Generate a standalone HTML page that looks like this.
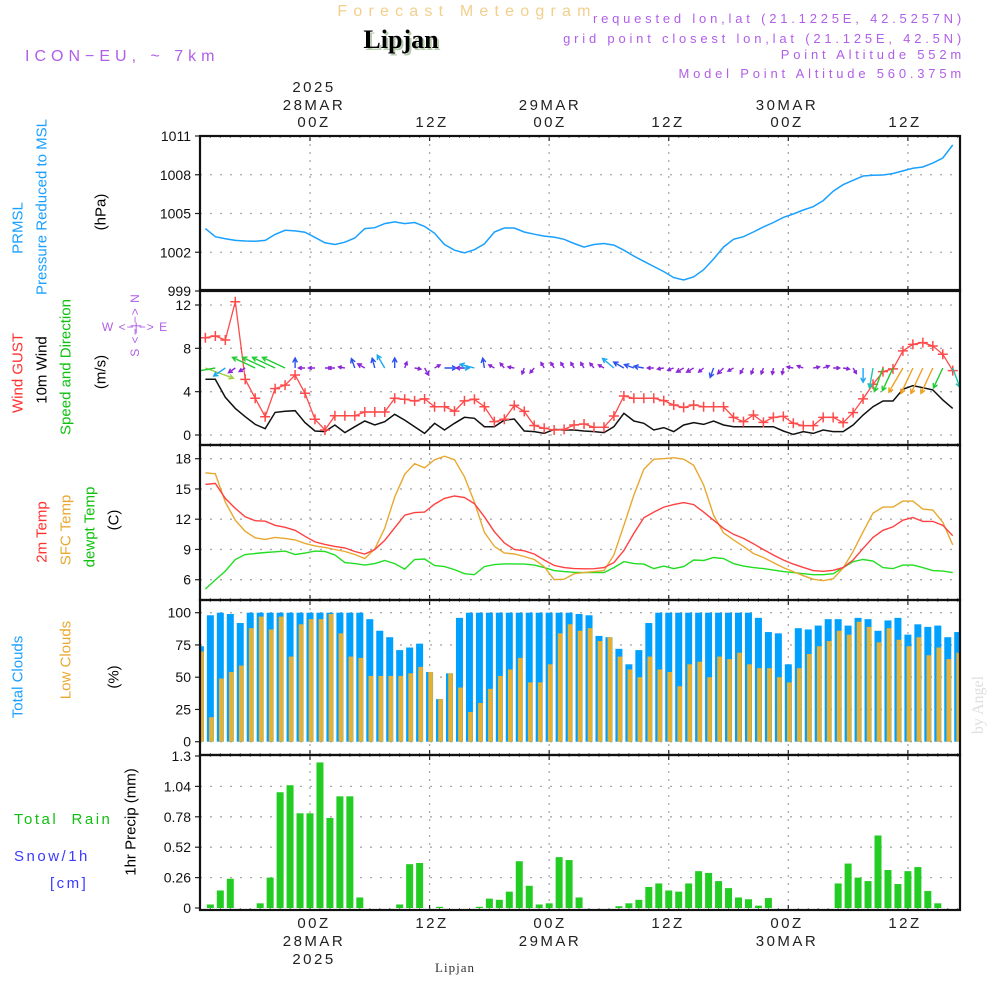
<!DOCTYPE html>
<html><head><meta charset="utf-8"><title>Forecast Meteogram Lipjan</title>
<style>
html,body{margin:0;padding:0;background:#fff;}
svg{display:block;font-family:"Liberation Sans",sans-serif;}
</style></head>
<body>
<svg id="chart" width="1000" height="1000" viewBox="0 0 1000 1000" xmlns="http://www.w3.org/2000/svg">
<rect x="0" y="0" width="1000" height="1000" fill="#fff"/>
<text x="467" y="16" text-anchor="middle" font-size="16" fill="#f3cf8c" letter-spacing="6.2">Forecast Meteogram</text>
<text x="403" y="50" text-anchor="middle" font-size="26" font-weight="bold" font-family="Liberation Serif, serif" fill="#b8ccb0">Lipjan</text>
<text x="401" y="48" text-anchor="middle" font-size="26" font-weight="bold" font-family="Liberation Serif, serif" fill="#000">Lipjan</text>
<text x="25" y="61" font-size="16" fill="#b15ee8" letter-spacing="5">ICON−EU, ~ 7km</text>
<g font-size="13" fill="#b15ee8" text-anchor="end" letter-spacing="3.8">
<text x="965" y="23">requested lon,lat (21.1225E, 42.5257N)</text>
<text x="965" y="43">grid point closest lon,lat (21.125E, 42.5N)</text>
<text x="965" y="59">Point Altitude 552m</text>
<text x="965" y="78">Model Point Altitude 560.375m</text>
</g>
<g font-size="15" fill="#222" text-anchor="middle" letter-spacing="2.5">
<text x="314" y="92">2025</text>
<text x="314" y="110">28MAR</text><text x="314" y="127">00Z</text>
<text x="432" y="127">12Z</text>
<text x="550" y="110">29MAR</text><text x="550" y="127">00Z</text>
<text x="668" y="127">12Z</text>
<text x="787" y="110">30MAR</text><text x="787" y="127">00Z</text>
<text x="905" y="127">12Z</text>
</g>
<g font-size="15" fill="#222" text-anchor="middle" letter-spacing="2.5">
<text x="314" y="928">00Z</text><text x="314" y="946">28MAR</text><text x="314" y="964">2025</text>
<text x="432" y="928">12Z</text>
<text x="550" y="928">00Z</text><text x="550" y="946">29MAR</text>
<text x="668" y="928">12Z</text>
<text x="787" y="928">00Z</text><text x="787" y="946">30MAR</text>
<text x="905" y="928">12Z</text>
</g>
<text x="455" y="972" text-anchor="middle" font-size="13" font-family="Liberation Serif, serif" fill="#333" letter-spacing="1">Lipjan</text>
<text transform="rotate(-90 983 705)" x="983" y="705" text-anchor="middle" font-size="16" font-family="Liberation Serif, serif" fill="#dde0dd">by Angel</text>

<g font-size="15" text-anchor="middle" dominant-baseline="central">
<text transform="rotate(-90 18 228)" x="18" y="228" fill="#1aa0ff">PRMSL</text>
<text transform="rotate(-90 42 207)" x="42" y="207" fill="#1aa0ff">Pressure Reduced to MSL</text>
<text transform="rotate(-90 101 212)" x="101" y="212" fill="#000">(hPa)</text>
<text transform="rotate(-90 18 373)" x="18" y="373" fill="#ff3030">Wind GUST</text>
<text transform="rotate(-90 42 370)" x="42" y="370" fill="#000">10m Wind</text>
<text transform="rotate(-90 66 367)" x="66" y="367" fill="#10c010">Speed and Direction</text>
<text transform="rotate(-90 101 372)" x="101" y="372" fill="#000">(m/s)</text>
<text transform="rotate(-90 42 532)" x="42" y="532" fill="#ff3030">2m Temp</text>
<text transform="rotate(-90 66 530)" x="66" y="530" fill="#e8a830">SFC Temp</text>
<text transform="rotate(-90 90 527)" x="90" y="527" fill="#10c010">dewpt Temp</text>
<text transform="rotate(-90 114 520)" x="114" y="520" fill="#000">(C)</text>
<text transform="rotate(-90 18 677)" x="18" y="677" fill="#1aa0ff">Total Clouds</text>
<text transform="rotate(-90 66 660)" x="66" y="660" fill="#e8a830">Low Clouds</text>
<text transform="rotate(-90 114 677)" x="114" y="677" fill="#000">(%)</text>
<text transform="rotate(-90 131 822)" x="131" y="822" fill="#000">1hr Precip (mm)</text>
</g>
<g font-size="15" letter-spacing="2.5">
<text x="14" y="824" fill="#10c010" xml:space="preserve">Total  Rain</text>
<text x="14" y="861" fill="#3a3aff">Snow/1h</text>
<text x="50" y="888" fill="#3a3aff">[cm]</text>
</g>
<g font-size="12" fill="#b15ee8" text-anchor="middle" dominant-baseline="central" letter-spacing="1">
<text x="135" y="327" xml:space="preserve">W &lt;−|−&gt; E</text>
<text transform="rotate(-90 135 325)" x="135" y="325" xml:space="preserve">S &lt;−|−&gt; N</text>
</g>
<g id="plots"></g>
</svg>
<script>
// ---------- data ----------
const ticksPressure = [999, 1002, 1005, 1008, 1011];
const ticksWind = [0, 4, 8, 12];
const ticksTemp = [6, 9, 12, 15, 18];
const ticksCloud = [0, 25, 50, 75, 100];
const ticksRain = [0, 0.26, 0.52, 0.78, 1.04, 1.3];
const ticksRainLabels = ["0", "0.26", "0.52", "0.78", "1.04", "1.3"];
const timeGridHours = [0, 12, 24, 36, 48, 60];
const barHours = [-11,-10,-9,-8,-7,-6,-5,-4,-3,-2,-1,0,1,2,3,4,5,6,7,8,9,10,11,12,13,14,15,16,17,18,19,20,21,22,23,24,25,26,27,28,29,30,31,32,33,34,35,36,37,38,39,40,41,42,43,44,45,46,47,48,49,50,51,52,53,54,55,56,57,58,59,60,61,62,63,64,65];
const totalClouds = [74,98,100,99,92,100,100,100,100,100,100,100,100,100,100,100,100,95,86,81,71,73,76,54,33,53,96,100,100,100,100,100,100,100,100,100,100,100,99,98,82,81,72,60,71,92,100,100,100,100,100,100,100,100,100,100,96,85,84,60,88,87,90,95,95,90,96,95,86,94,96,83,91,89,90,81,85];
const lowClouds = [70,19,49,54,59,88,97,87,97,66,91,95,95,99,84,66,65,51,51,51,51,53,58,54,33,53,42,23,30,41,51,56,65,46,46,60,84,91,86,88,78,81,66,56,50,66,56,54,43,60,62,50,66,64,69,60,57,57,50,46,57,68,74,78,86,83,93,89,77,88,79,74,81,67,73,64,69];
const rainTotal = [0,0.03,0.15,0.25,0,0,0.04,0.26,0.99,1.05,0.81,0.81,1.245,0.77,0.955,0.955,0.09,0,0,0,0.03,0.375,0.385,0,0.01,0,0,0,0.01,0.08,0.07,0.14,0.40,0.19,0.03,0.04,0.435,0.41,0.09,0,0,0,0.015,0.04,0.07,0.18,0.21,0.15,0.14,0.21,0.315,0.30,0.23,0.17,0.09,0.075,0.02,0.085,0,0,0,0,0,0,0.21,0.38,0.26,0.23,0.62,0.325,0.205,0.315,0.35,0.145,0.04,0,0];
const lineHours = [-10.5,-9.5,-8.5,-7.5,-6.5,-5.5,-4.5,-3.5,-2.5,-1.5,-0.5,0.5,1.5,2.5,3.5,4.5,5.5,6.5,7.5,8.5,9.5,10.5,11.5,12.5,13.5,14.5,15.5,16.5,17.5,18.5,19.5,20.5,21.5,22.5,23.5,24.5,25.5,26.5,27.5,28.5,29.5,30.5,31.5,32.5,33.5,34.5,35.5,36.5,37.5,38.5,39.5,40.5,41.5,42.5,43.5,44.5,45.5,46.5,47.5,48.5,49.5,50.5,51.5,52.5,53.5,54.5,55.5,56.5,57.5,58.5,59.5,60.5,61.5,62.5,63.5,64.5];
const pressure = [1003.83,1003.2,1003.05,1002.92,1002.87,1002.85,1002.92,1003.38,1003.7,1003.65,1003.55,1003.15,1002.73,1002.6,1002.78,1003.1,1003.83,1003.9,1004.22,1004.35,1004.22,1004.3,1004.0,1003.47,1002.6,1002.16,1001.95,1002.2,1002.65,1003.57,1003.88,1003.88,1003.57,1003.4,1003.25,1003.17,1003.0,1002.68,1002.4,1002.6,1002.68,1002.55,1002.16,1001.7,1001.3,1000.9,1000.5,1000.04,999.85,1000.1,1000.65,1001.48,1002.4,1003.0,1003.2,1003.57,1003.96,1004.3,1004.7,1004.96,1005.27,1005.53,1006.0,1006.73,1007.23,1007.57,1007.9,1007.96,1007.98,1008.1,1008.3,1008.5,1008.6,1008.9,1009.3,1010.3];
const windGust = [8.98,9.14,8.77,12.3,5.14,3.39,1.69,4.28,4.6,5.54,3.85,1.45,0.46,1.78,1.78,1.78,2.12,2.12,2.12,3.39,3.3,3.15,3.33,2.61,2.61,2.2,3.15,3.3,2.61,1.23,1.45,2.73,2.18,0.88,0.62,0.46,0.52,0.92,1.02,0.72,0.72,1.75,3.6,3.39,3.39,3.39,3.17,2.77,2.55,2.77,2.61,2.61,2.61,1.63,1.23,1.85,1.17,1.63,1.72,1.08,0.86,0.86,1.63,1.63,1.14,2.06,3.33,4.68,5.85,6.1,7.76,8.37,8.53,8.22,7.45,5.94];
const windSpeed = [5.14,5.14,3.48,2.46,1.69,0.98,0.58,2.09,2.2,2.24,1.14,0.37,0.31,0.92,0.22,0.77,1.29,0.92,1.23,1.91,1.38,0.77,0.15,1.08,0.46,1.08,1.63,1.54,0.77,0.77,1.38,1.48,0.37,0.31,0.15,0.52,0.46,0.46,0.37,0.31,0.22,0.77,2.0,1.29,1.08,0.46,0.68,0.31,0.92,1.14,0.98,1.29,0.92,0.77,0.77,0.77,0.77,0.77,0.37,0.06,0.31,0.15,0.46,0.31,0.31,0.92,1.85,2.61,3.14,3.14,4.22,4.56,4.37,4.16,3.24,2.46];
const windDir = [110,260,235,235,240,295,295,295,295,0,270,270,90,270,280,340,300,345,330,0,20,100,150,60,90,90,270,285,350,300,320,280,200,220,330,330,330,330,330,320,300,310,300,290,280,270,260,250,240,240,230,200,225,240,210,200,200,190,190,280,290,80,70,90,100,150,180,190,200,205,210,205,205,205,205,160];
const arrowSpeed = [4.3,3,1.7,0.7,0.5,3.5,3.5,3.5,3.5,1,0.4,0.4,0.4,0.4,0.4,1,0.7,1,1.8,1,0.4,0.4,0.7,0.4,1.3,1.8,0.7,1.8,1,0.4,0.4,0.4,0.4,0.4,0.4,0.4,0.4,0.4,0.4,0.4,0.4,1.8,1.3,1,1,0.4,0.4,0.4,0.7,0.7,0.4,1,0.7,0.4,0.4,0.4,0.4,0.4,0.4,0.4,0.4,0.4,0.4,0.4,0.4,0.4,1.7,2.7,3.5,3.5,4,4,4,4,3,2.7];
const temp2m = [15.45,15.55,14.06,13.07,12.24,11.85,11.8,11.4,11.2,10.9,10.3,9.75,9.5,9.3,9.15,8.8,8.55,9.0,9.9,11.15,12.4,12.65,12.7,13.5,14.06,14.3,14.15,13.55,12.24,10.75,9.65,9.0,8.87,8.55,7.95,7.42,7.2,7.1,7.08,7.09,7.2,7.7,8.9,10.6,12.14,12.7,13.2,13.45,13.65,13.45,12.7,11.9,11.1,10.5,10.1,9.57,9.0,8.45,7.95,7.55,7.22,6.9,6.83,6.93,7.2,7.95,9.1,10.2,10.9,11.25,11.9,12.17,11.78,11.78,11.4,10.36];
const tempSfc = [16.6,16.5,13.7,11.9,10.8,10.16,10.0,10.2,10.1,9.95,9.6,9.35,9.2,9.0,8.8,8.5,8.1,9.05,11.1,14.2,16.45,17.5,17.1,17.9,18.25,17.9,16.2,13.7,10.7,9.3,8.65,8.55,8.3,8.0,7.3,6.0,6.05,6.6,6.7,6.8,6.9,8.45,11.4,14.4,16.95,17.95,18.0,18.1,17.95,17.35,15.4,12.4,10.65,9.95,9.3,8.6,8.2,7.7,7.2,6.8,6.4,6.05,5.9,6.1,7.15,8.8,10.75,12.6,13.2,13.2,13.8,13.8,13.0,12.9,11.7,9.45];
const tempDew = [5.08,5.97,6.85,8.0,8.5,8.6,8.7,8.77,8.84,8.5,8.64,8.84,8.8,8.45,7.7,7.6,7.45,7.6,7.9,7.6,7.05,8.0,8.05,7.4,7.3,7.0,6.6,6.5,7.3,7.5,7.57,7.57,7.55,7.45,7.2,6.9,6.8,6.73,6.7,6.7,6.7,7.2,7.8,7.6,7.55,7.1,7.35,7.1,7.3,7.95,7.9,8.2,8.1,7.6,7.35,7.2,7.1,6.95,6.8,6.7,6.6,6.5,6.5,6.6,7.2,7.8,8.0,7.85,7.2,7.1,7.45,7.45,7.2,6.9,6.85,6.7];

// ---------- axes ----------
const X0 = 200, X1 = 960;
function xOf(h){ return 310 + h * 9.965; }
const panels = {
  pres:  {top:136, bottom:291, lo:999, hi:1011, y0:291, yHi:136},
  wind:  {top:290, bottom:445, lo:0, hi:12, y0:435, yHi:305},
  temp:  {top:445, bottom:600, lo:6, hi:18, y0:579.7, yHi:458.7},
  cloud: {top:600, bottom:755, lo:0, hi:100, y0:741.7, yHi:612.7},
  rain:  {top:755, bottom:910, lo:0, hi:1.3, y0:908, yHi:756}
};
function yOf(p, v){ return p.y0 - (v - p.lo) / (p.hi - p.lo) * (p.y0 - p.yHi); }

const NS = "http://www.w3.org/2000/svg";
const root = document.getElementById("plots");
function mk(tag, attrs, parent){
  const e = document.createElementNS(NS, tag);
  for (const k in attrs) e.setAttribute(k, attrs[k]);
  (parent || root).appendChild(e);
  return e;
}
const defs = mk("defs", {});
const cp = mk("clipPath", {id:"clipX"}, defs);
mk("rect", {x:X0, y:130, width:X1-X0, height:790}, cp);

function drawPanel(key, name, ticks, labels){
  const p = panels[key];
  const g = mk("g", {});
  
  
  ticks.forEach(function(t){
    const y = yOf(p, t);
    if (y > p.top + 2 && y < p.bottom - 2) {
      const l = mk("line", {x1:X0, x2:X1, y1:y, y2:y, stroke:"#aaa", "stroke-width":1.3, "stroke-dasharray":"2,8"}, g);
      
      
    }
  });
  timeGridHours.forEach(function(h){
    const x = xOf(h);
    const l = mk("line", {x1:x, x2:x, y1:p.top, y2:p.bottom, stroke:"#aaa", "stroke-width":1.3, "stroke-dasharray":"2,6"}, g);
    
    
    mk("line", {x1:x, x2:x, y1:p.top, y2:p.top+5, stroke:"#222", "stroke-width":1.2}, g);
    mk("line", {x1:x, x2:x, y1:p.bottom, y2:p.bottom-5, stroke:"#222", "stroke-width":1.2}, g);
  });
  for (let h = -11; h <= 65; h++) {
    const x = xOf(h);
    mk("line", {x1:x, x2:x, y1:p.top, y2:p.top+2, stroke:"#777", "stroke-width":1}, g);
    mk("line", {x1:x, x2:x, y1:p.bottom, y2:p.bottom-2, stroke:"#777", "stroke-width":1}, g);
  }
  ticks.forEach(function(t, i){
    const y = yOf(p, t);
    mk("line", {x1:X0-5, x2:X0, y1:y, y2:y, stroke:"#222", "stroke-width":1.2}, g);
    const tx = mk("text", {x:X0-9, y:y+5, "text-anchor":"end", "font-size":14, fill:"#111"}, g);
    tx.textContent = labels ? labels[i] : String(t);
    
    
  });
  return g;
}
function drawFrame(key, name){
  const p = panels[key];
  const r = mk("rect", {x:X0, y:p.top, width:X1-X0, height:p.bottom-p.top, fill:"none", stroke:"#111", "stroke-width":2.2});
  
  
}
function polyline(key, hours, vals, color, name, width){
  const p = panels[key];
  const pts = vals.map(function(v, i){ return xOf(hours[i]).toFixed(1) + "," + yOf(p, v).toFixed(1); }).join(" ");
  const pl = mk("polyline", {points:pts, fill:"none", stroke:color, "stroke-width":width || 1.4, "clip-path":"url(#clipX)"});
  
  
  return pl;
}

drawPanel("pres", "pressure", ticksPressure);
polyline("pres", lineHours, pressure, "#1aa0ff", "pressure-line", 1.5);

drawPanel("wind", "wind", ticksWind);
polyline("wind", lineHours, windSpeed, "#111", "wind-speed-line", 1.5);
polyline("wind", lineHours, windGust, "#ff4a4a", "wind-gust-line", 1.3);
windGust.forEach(function(v, i){
  const x = xOf(lineHours[i]), y = yOf(panels.wind, v);
  const m = mk("path", {d:"M"+(x-5)+","+y+"h10M"+x+","+(y-5)+"v10", stroke:"#ff4a4a", "stroke-width":1.5, "clip-path":"url(#clipX)"});
  
  
});
function arrowColor(s){
  if (s < 0.8) return "#8a28d8";
  if (s < 1.5) return "#2a50f0";
  if (s < 2.2) return "#18a8f0";
  if (s < 3.0) return "#18c8b0";
  if (s < 3.6) return "#20cc30";
  if (s < 4.2) return "#f0a020";
  return "#a0d040";
}
windDir.forEach(function(d, i){
  const s = arrowSpeed[i];
  const len = 4 + s * 6;
  const x = xOf(lineHours[i]), y = 368;
  const a = d * Math.PI / 180;
  const tx = x + Math.sin(a) * len, ty = y - Math.cos(a) * len;
  const hl = Math.min(5, len * 0.55);
  const a1 = a + Math.PI - 0.5, a2 = a + Math.PI + 0.5;
  const dPath = "M"+x.toFixed(1)+","+y+"L"+tx.toFixed(1)+","+ty.toFixed(1)+
    "M"+(tx+Math.sin(a1)*hl).toFixed(1)+","+(ty-Math.cos(a1)*hl).toFixed(1)+"L"+tx.toFixed(1)+","+ty.toFixed(1)+
    "L"+(tx+Math.sin(a2)*hl).toFixed(1)+","+(ty-Math.cos(a2)*hl).toFixed(1);
  const ar = mk("path", {d:dPath, fill:"none", stroke:arrowColor(s), "stroke-width":1.4, "clip-path":"url(#clipX)"});
  
  
});

drawPanel("temp", "temperature", ticksTemp);
polyline("temp", lineHours, tempDew, "#22dd22", "dewpoint-line", 1.4);
polyline("temp", lineHours, tempSfc, "#e8a830", "sfc-temp-line", 1.4);
polyline("temp", lineHours, temp2m, "#ff4040", "temp-2m-line", 1.4);

drawPanel("cloud", "clouds", ticksCloud);
totalClouds.forEach(function(v, i){
  const p = panels.cloud, x = xOf(barHours[i]), y = yOf(p, v);
  const b = mk("rect", {x:x-3.5, y:y, width:7, height:p.y0-y, fill:"#00a0ff", "clip-path":"url(#clipX)"});
  
  
});
lowClouds.forEach(function(v, i){
  const p = panels.cloud, x = xOf(barHours[i]), y = yOf(p, v);
  const b = mk("rect", {x:x-1.3, y:y, width:4.6, height:p.y0-y, fill:"#e8b030", "clip-path":"url(#clipX)"});
  
  
});

drawPanel("rain", "precip", ticksRain, ticksRainLabels);
rainTotal.forEach(function(v, i){
  if (v <= 0) return;
  const p = panels.rain, x = xOf(barHours[i]), y = yOf(p, v);
  const b = mk("rect", {x:x-3.5, y:y, width:7, height:p.y0-y, fill:"#22cc22", "clip-path":"url(#clipX)"});
  
  
});

drawFrame("pres", "pressure");
drawFrame("wind", "wind");
drawFrame("temp", "temperature");
drawFrame("cloud", "clouds");
drawFrame("rain", "precip");
</script>
</body></html>
